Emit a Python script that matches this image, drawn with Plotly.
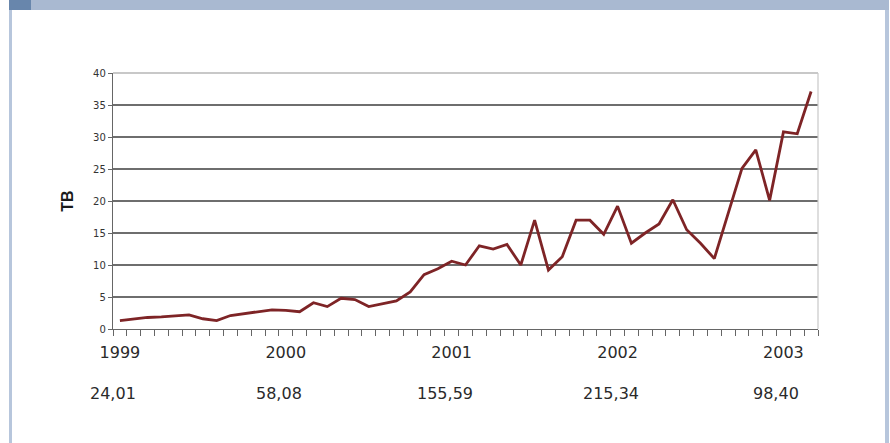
import plotly.graph_objects as go

# Monthly traffic volume in TB, January 1999 - March 2003
monthly_tb = [
    1.3, 1.6, 1.8, 1.9, 2.0, 2.2, 1.6, 1.3, 2.1, 2.4, 2.8, 3.0,          # 1999
    2.9, 2.7, 4.1, 3.5, 4.8, 4.6, 3.5, 3.9, 4.4, 5.8, 8.5, 9.4,          # 2000
    10.6, 10.0, 13.0, 12.5, 13.2, 10.0, 17.0, 9.2, 11.3, 17.0, 17.0, 14.8,  # 2001
    19.2, 13.4, 15.0, 16.4, 20.2, 15.5, 13.4, 11.0, 18.0, 25.1, 28.0, 20.1,  # 2002
    30.8, 30.5, 37.1,                                                     # 2003
]
years = ["1999", "2000", "2001", "2002", "2003"]
year_totals = [24.01, 58.08, 155.59, 215.34, 98.40]
y_ticks = [0, 5, 10, 15, 20, 25, 30, 35, 40]

month_index = list(range(len(monthly_tb)))
year_start_index = [12 * k for k in range(len(years))]

# Page geometry (pixels)
W, H = 890, 443
L, R, T, B = 113, 818, 73, 329


def px_x(x):
    return (x - L) / (R - L)


def px_y(y):
    return (B - y) / (B - T)


fig = go.Figure()
fig.add_trace(go.Scatter(
    x=month_index, y=monthly_tb, mode="lines",
    line=dict(color="#7e2426", width=2.8),
    hoverinfo="skip", showlegend=False,
))

shapes = [
    # header band and its dark corner block
    dict(type="rect", xref="paper", yref="paper",
         x0=px_x(9), x1=px_x(889), y0=px_y(10), y1=px_y(0),
         fillcolor="#a9b9d1", line=dict(width=0), layer="above"),
    dict(type="rect", xref="paper", yref="paper",
         x0=px_x(9), x1=px_x(31), y0=px_y(10), y1=px_y(0),
         fillcolor="#6886ac", line=dict(width=0), layer="above"),
    # side frame lines of the panel
    dict(type="rect", xref="paper", yref="paper",
         x0=px_x(9), x1=px_x(12), y0=px_y(H), y1=px_y(10),
         fillcolor="#b7c6dc", line=dict(width=0), layer="above"),
    dict(type="rect", xref="paper", yref="paper",
         x0=px_x(885), x1=px_x(889), y0=px_y(H), y1=px_y(10),
         fillcolor="#b7c6dc", line=dict(width=0), layer="above"),
    # light plot-area border on top and right
    dict(type="line", xref="paper", yref="paper", x0=0, x1=1, y0=1, y1=1,
         line=dict(color="#c8c8c8", width=2), layer="above"),
    dict(type="line", xref="paper", yref="paper", x0=1, x1=1, y0=0, y1=1,
         line=dict(color="#c8c8c8", width=1.2), layer="above"),
]

annotations = []
for idx, total in zip(year_start_index, year_totals):
    annotations.append(dict(
        x=idx, y=px_y(393), xref="x", yref="paper",
        text=f"{total:.2f}".replace(".", ","), showarrow=False,
        xshift=-7, xanchor="center", yanchor="middle",
        font=dict(family="DejaVu Sans", size=16, color="#2a2a2a"),
    ))

fig.update_layout(
    width=W, height=H,
    margin=dict(l=L, r=W - R, t=T, b=H - B, pad=0, autoexpand=False),
    paper_bgcolor="white", plot_bgcolor="white",
    shapes=shapes, annotations=annotations,
    xaxis=dict(
        range=[-0.5, len(monthly_tb) - 0.5],
        tickvals=year_start_index, ticktext=years,
        ticks="", showgrid=False, zeroline=False,
        showline=True, linecolor="#666666", linewidth=1.3,
        tickfont=dict(family="DejaVu Sans", size=16, color="#2a2a2a"),
        ticklabelstandoff=9,
        minor=dict(tick0=-0.5, dtick=1, ticks="outside", ticklen=6,
                   tickcolor="#666666", tickwidth=1.3, showgrid=False),
    ),
    yaxis=dict(
        range=[0, 40], tickvals=y_ticks,
        ticks="outside", ticklen=4, tickcolor="#666666", tickwidth=1.3,
        showgrid=True, gridcolor="#6e6e6e", gridwidth=1.5,
        zeroline=False, showline=True, linecolor="#666666", linewidth=1.3,
        tickfont=dict(family="DejaVu Sans", size=10, color="#333333"),
        title=dict(text="<b>TB</b>", standoff=15,
                   font=dict(family="Liberation Sans", size=16, color="#1a1a1a")),
    ),
)

fig.write_html("out.html")
